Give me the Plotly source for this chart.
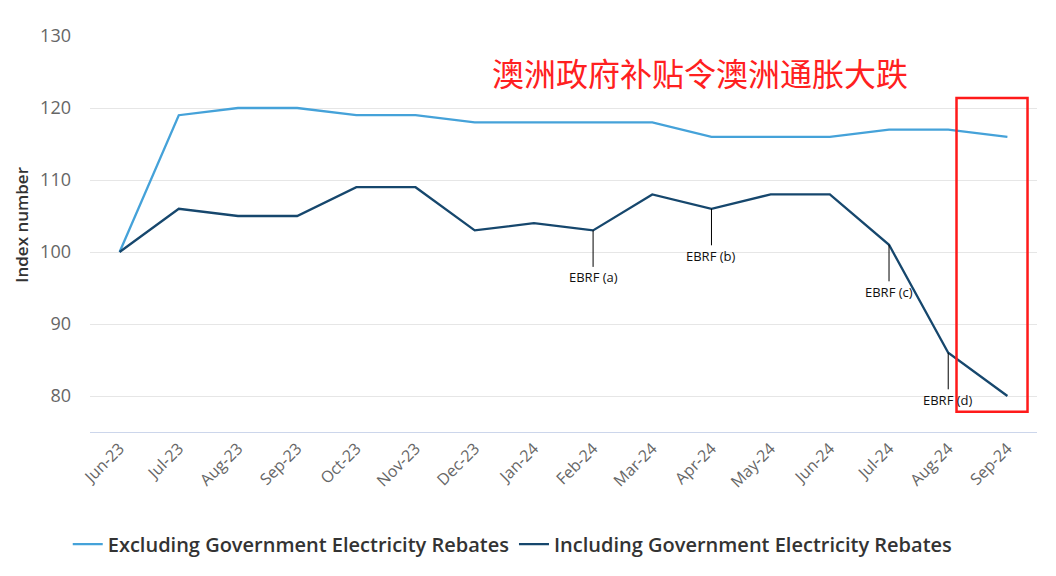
import plotly.graph_objects as go

# ==========================================================
# DATA
# ==========================================================

months = [
    "Jun-23", "Jul-23", "Aug-23", "Sep-23", "Oct-23", "Nov-23",
    "Dec-23", "Jan-24", "Feb-24", "Mar-24", "Apr-24", "May-24",
    "Jun-24", "Jul-24", "Aug-24", "Sep-24"
]

excluding = [100, 119, 120, 120, 119, 119, 118, 118, 118, 118, 116, 116, 116, 117, 117, 116]

including = [100, 106, 105, 105, 109, 109, 103, 104, 103, 108, 106, 108, 108, 101, 86, 80]

ebrf_months = ["Feb-24", "Apr-24", "Jul-24", "Aug-24"]
ebrf_labels = ["EBRF (a)", "EBRF (b)", "EBRF (c)", "EBRF (d)"]

title_text = "澳洲政府补贴令澳洲通胀大跌"

# ==========================================================
# FIGURE
# ==========================================================

fig = go.Figure()

fig.add_trace(
    go.Scatter(
        x=months,
        y=excluding,
        mode="lines",
        name="Excluding Government Electricity Rebates",
        line=dict(color="#45a2d9", width=2.3)
    )
)

fig.add_trace(
    go.Scatter(
        x=months,
        y=including,
        mode="lines",
        name="Including Government Electricity Rebates",
        line=dict(color="#16476d", width=2.3)
    )
)

# EBRF markers
for m, label in zip(ebrf_months, ebrf_labels):
    fig.add_annotation(
        x=m,
        y=including[months.index(m)],
        text=label,
        showarrow=True,
        arrowhead=0,
        arrowwidth=1,
        arrowcolor="#000000",
        ax=0,
        ay=47,
        font=dict(family="Open Sans", size=13, color="#111111")
    )

# red highlight box
fig.add_shape(
    type="rect",
    xref="x",
    yref="y",
    x0=14.14,
    x1=15.34,
    y0=77.8,
    y1=121.4,
    line=dict(color="#ff1a1a", width=2.5)
)

fig.add_annotation(
    xref="paper",
    yref="paper",
    x=0.644,
    y=0.972,
    text=title_text,
    showarrow=False,
    font=dict(family="Noto Sans CJK SC", size=32, color="#ff2020")
)

# y axis title
fig.add_annotation(
    xref="paper",
    yref="paper",
    x=-0.072,
    y=0.523,
    xanchor="center",
    yanchor="middle",
    text="Index number",
    textangle=-90,
    showarrow=False,
    font=dict(family="Open Sans", size=17, color="#333333", weight=600)
)

# page body has an 8px margin, so the margins are shifted by 8px
fig.update_layout(
    width=1056,
    height=576,
    paper_bgcolor="white",
    plot_bgcolor="white",
    font=dict(family="Open Sans", color="#333333"),
    margin=dict(l=82, r=27, t=28, b=152, autoexpand=False),
    showlegend=True,
    legend=dict(
        orientation="h",
        x=-0.0235,
        xanchor="left",
        y=-0.283,
        yanchor="middle",
        font=dict(size=20, color="#333333", weight=600),
        itemwidth=30
    )
)

fig.update_xaxes(
    type="category",
    range=[-0.5, 15.5],
    tickangle=-45,
    tickfont=dict(size=16, color="#666666"),
    showgrid=False,
    showline=True,
    linecolor="#ccd6eb",
    linewidth=1,
    ticks=""
)

fig.update_yaxes(
    range=[75, 130],
    tickvals=[80, 90, 100, 110, 120, 130],
    tickfont=dict(size=18, color="#666666"),
    gridcolor="#e6e6e6",
    zeroline=False,
    ticklabelstandoff=18
)

fig.write_html("out.html")
